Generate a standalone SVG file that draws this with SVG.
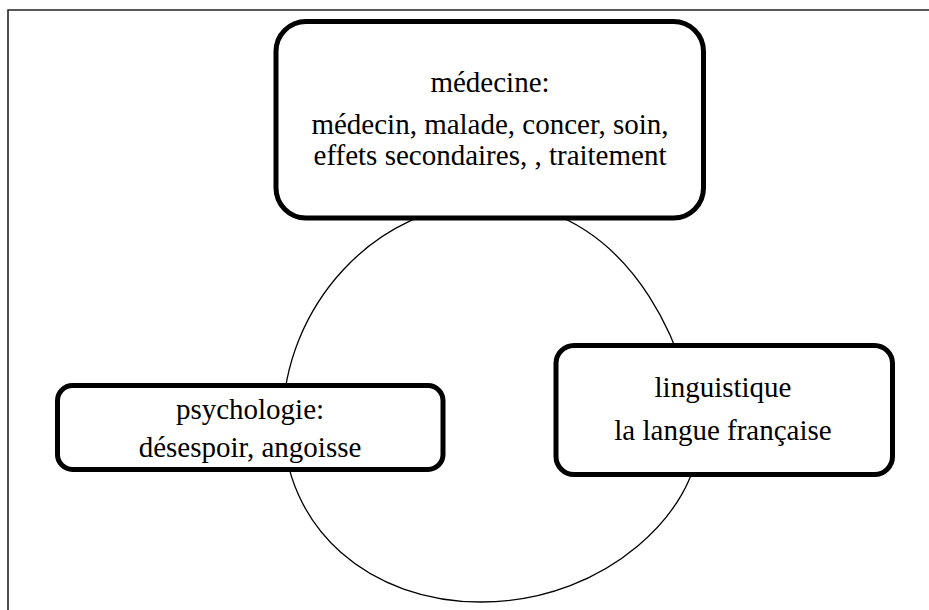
<svg xmlns="http://www.w3.org/2000/svg" width="929" height="610" viewBox="0 0 929 610">
<style>
.box{fill:#fff;stroke:#000;stroke-width:5}
.t{font-family:"Liberation Serif","Times New Roman",serif;font-size:29px;fill:#000;text-anchor:middle}
.cyc{fill:none;stroke:#000;stroke-width:1.3}
.frame{fill:none;stroke:#222;stroke-width:1.6}
</style>
<rect x="0" y="0" width="929" height="610" fill="#fff"/>
<path class="frame" d="M8 610 V10 H929"/>
<g id="connectors">
<path class="cyc" d="M492 203 C638 203 697 372 697 445 C697 505 611 602 481 602 C371 602 283 530 283 420 C283 310 373 203 492 203 Z"/>
</g>
<g id="medecine">
<rect class="box" x="276" y="21.5" width="427.5" height="196.5" rx="30" ry="30"/>
<text class="t" x="490" y="92">médecine:</text>
<text class="t" x="490" y="134">médecin, malade, concer, soin,</text>
<text class="t" x="490" y="165">effets secondaires, , traitement</text>
</g>
<g id="psychologie">
<rect class="box" x="57.5" y="385.5" width="385.5" height="84" rx="15" ry="15"/>
<text class="t" x="250" y="419">psychologie:</text>
<text class="t" x="250" y="456.5">désespoir, angoisse</text>
</g>
<g id="linguistique">
<rect class="box" x="556" y="345.5" width="336.5" height="129" rx="18" ry="18"/>
<text class="t" x="723" y="397">linguistique</text>
<text class="t" x="723" y="440">la langue française</text>
</g>
</svg>
